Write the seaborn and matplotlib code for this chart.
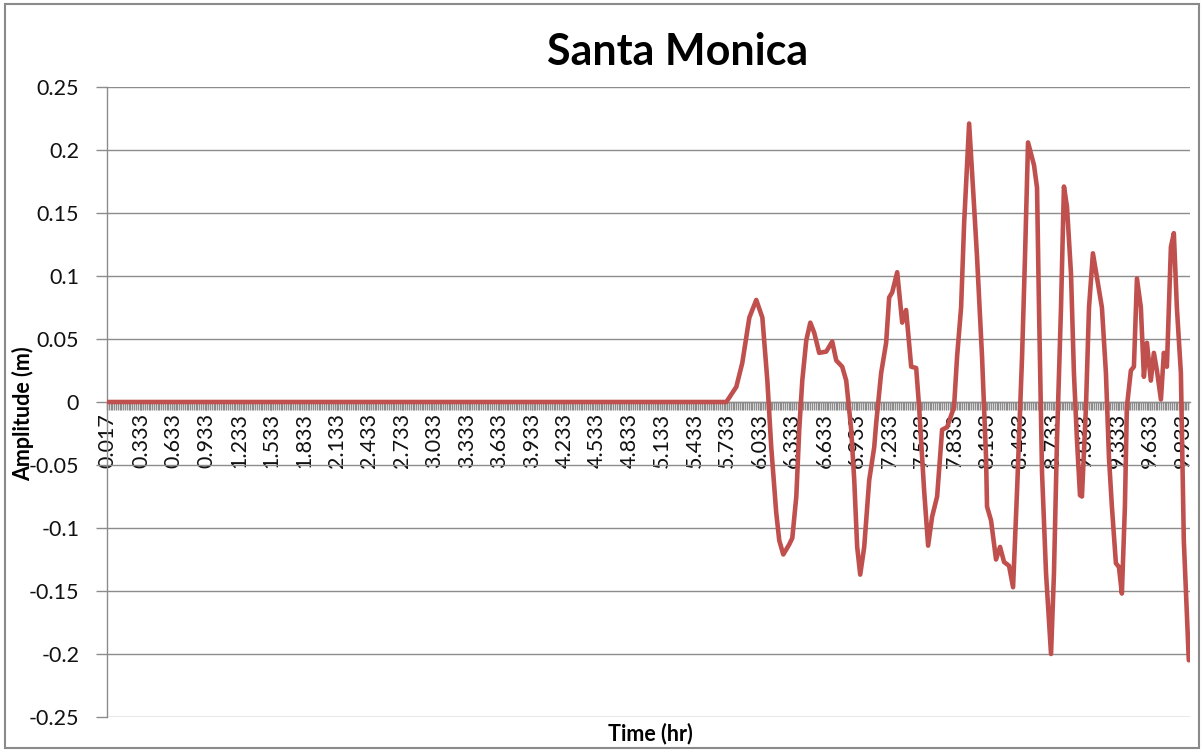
import numpy as np
import matplotlib
matplotlib.use("Agg")
import matplotlib.pyplot as plt
from matplotlib.patches import Rectangle
from matplotlib.ticker import FixedLocator
import seaborn as sns

# ---- data ----
time_hr = [0.017, 5.726, 5.818, 5.873, 5.938, 6.002, 6.058, 6.104, 6.140, 6.186,
           6.214, 6.251, 6.306, 6.334, 6.371, 6.398, 6.426, 6.463, 6.500, 6.536,
           6.582, 6.647, 6.702, 6.739, 6.794, 6.831, 6.877, 6.905, 6.932, 6.960,
           6.997, 7.043, 7.089, 7.107, 7.153, 7.199, 7.227, 7.255, 7.301, 7.347,
           7.383, 7.430, 7.476, 7.503, 7.549, 7.586, 7.623, 7.669, 7.715, 7.761,
           7.825, 7.853, 7.890, 7.918, 7.964, 8.010, 8.037, 8.083, 8.120, 8.129,
           8.166, 8.212, 8.249, 8.286, 8.332, 8.369, 8.406, 8.452, 8.479, 8.507,
           8.562, 8.590, 8.608, 8.636, 8.673, 8.719, 8.746, 8.774, 8.811, 8.838,
           8.866, 8.903, 8.930, 8.958, 8.986, 9.004, 9.041, 9.069, 9.105, 9.142,
           9.188, 9.225, 9.253, 9.280, 9.317, 9.345, 9.372, 9.400, 9.418, 9.455,
           9.483, 9.511, 9.547, 9.575, 9.603, 9.639, 9.667, 9.695, 9.732, 9.759,
           9.787, 9.824, 9.851, 9.879, 9.916, 9.943, 9.989]
amplitude_m = [0.0, 0.0, 0.012, 0.031, 0.067, 0.081, 0.067, 0.017, -0.036, -0.088,
               -0.110, -0.121, -0.113, -0.108, -0.075, -0.022, 0.017, 0.049, 0.063, 0.055,
               0.039, 0.040, 0.048, 0.033, 0.028, 0.017, -0.022, -0.062, -0.115, -0.137,
               -0.115, -0.062, -0.036, -0.017, 0.023, 0.047, 0.083, 0.087, 0.103, 0.063,
               0.073, 0.028, 0.027, -0.004, -0.070, -0.114, -0.091, -0.075, -0.022, -0.020,
               -0.004, 0.036, 0.075, 0.142, 0.221, 0.155, 0.115, 0.036, -0.044, -0.083,
               -0.094, -0.125, -0.115, -0.127, -0.130, -0.147, -0.070, 0.036, 0.115, 0.206,
               0.188, 0.170, 0.075, -0.056, -0.136, -0.200, -0.136, -0.030, 0.075, 0.171,
               0.155, 0.102, 0.023, -0.030, -0.074, -0.075, -0.004, 0.075, 0.118, 0.099,
               0.075, 0.023, -0.044, -0.083, -0.128, -0.131, -0.152, -0.083, -0.004, 0.025,
               0.028, 0.098, 0.075, 0.020, 0.047, 0.017, 0.039, 0.025, 0.002, 0.039,
               0.028, 0.123, 0.134, 0.075, 0.023, -0.110, -0.205]

x_tick_labels = ["0.017", "0.333", "0.633", "0.933", "1.233", "1.533", "1.833",
                 "2.133", "2.433", "2.733", "3.033", "3.333", "3.633", "3.933",
                 "4.233", "4.533", "4.833", "5.133", "5.433", "5.733", "6.033",
                 "6.333", "6.633", "6.933", "7.233", "7.533", "7.833", "8.133",
                 "8.433", "8.733", "9.033", "9.333", "9.633", "9.933"]
y_tick_values = [-0.25, -0.2, -0.15, -0.1, -0.05, 0, 0.05, 0.1, 0.15, 0.2, 0.25]
y_tick_labels = ["-0.25", "-0.2", "-0.15", "-0.1", "-0.05", "0", "0.05", "0.1",
                 "0.15", "0.2", "0.25"]

title = "Santa Monica"
x_title = "Time (hr)"
y_title = "Amplitude (m)"

# ---- style ----
sns.set_theme(style="white")
plt.rcParams["font.family"] = ["Lato", "DejaVu Sans"]

W, H = 1203, 751
fig = plt.figure(figsize=(W / 100, H / 100), dpi=100)
fig.patch.set_facecolor("white")
L, R, T, B = 107, 1190, 87, 717
ax = fig.add_axes([L / W, 1 - B / H, (R - L) / W, (B - T) / H])

line_color = "#C0504D"
grid_color = "#8C8C8C"

sns.lineplot(x=time_hr, y=amplitude_m, ax=ax, color=line_color, linewidth=3.3,
             estimator=None, sort=False, zorder=5)

ax.set_xlim(0.017, 10.0)
ax.set_ylim(-0.25, 0.25)

# y axis
ax.set_yticks(y_tick_values)
ax.set_yticklabels(y_tick_labels, fontsize=15.5, color="#111111")
ax.yaxis.grid(True, color=grid_color, linewidth=1.0)
ax.xaxis.grid(False)
ax.tick_params(axis="y", which="major", direction="out", length=8, width=1,
               color=grid_color, pad=12, left=True)

# x axis at zero
for s in ["top", "right"]:
    ax.spines[s].set_visible(False)
ax.spines["left"].set_color(grid_color)
ax.spines["left"].set_linewidth(1.0)
ax.spines["bottom"].set_position(("data", 0))
ax.spines["bottom"].set_color(grid_color)
ax.spines["bottom"].set_linewidth(1.0)

tick_pos = [float(s) for s in x_tick_labels]
ax.xaxis.set_major_locator(FixedLocator(tick_pos))
ax.set_xticklabels(x_tick_labels, rotation=90, fontsize=15.5, color="#111111")
ax.xaxis.set_minor_locator(FixedLocator(np.arange(1 / 60, 10.0, 1 / 60)))
ax.tick_params(axis="x", which="both", direction="out", length=6, width=1,
               color=grid_color, pad=2, bottom=True)
for lab in ax.get_xticklabels():
    lab.set_verticalalignment("top")

ax.set_xlabel("")
ax.set_ylabel("")

fig.text(678 / W, 1 - 52 / H, title, fontsize=31, fontweight="bold",
         ha="center", va="center", color="black")
fig.text(650 / W, 1 - 734 / H, x_title, fontsize=15.5, fontweight="bold",
         ha="center", va="center", color="black")
fig.text(23 / W, 1 - 414 / H, y_title, fontsize=15.5, fontweight="bold",
         ha="center", va="center", rotation=90, color="black")

fig.patches.append(Rectangle((5 / W, 3 / H), 1194 / W, 744 / H, transform=fig.transFigure,
                             fill=False, edgecolor="#8A8A8A", linewidth=1.5))

fig.savefig("out.png", dpi=100)
